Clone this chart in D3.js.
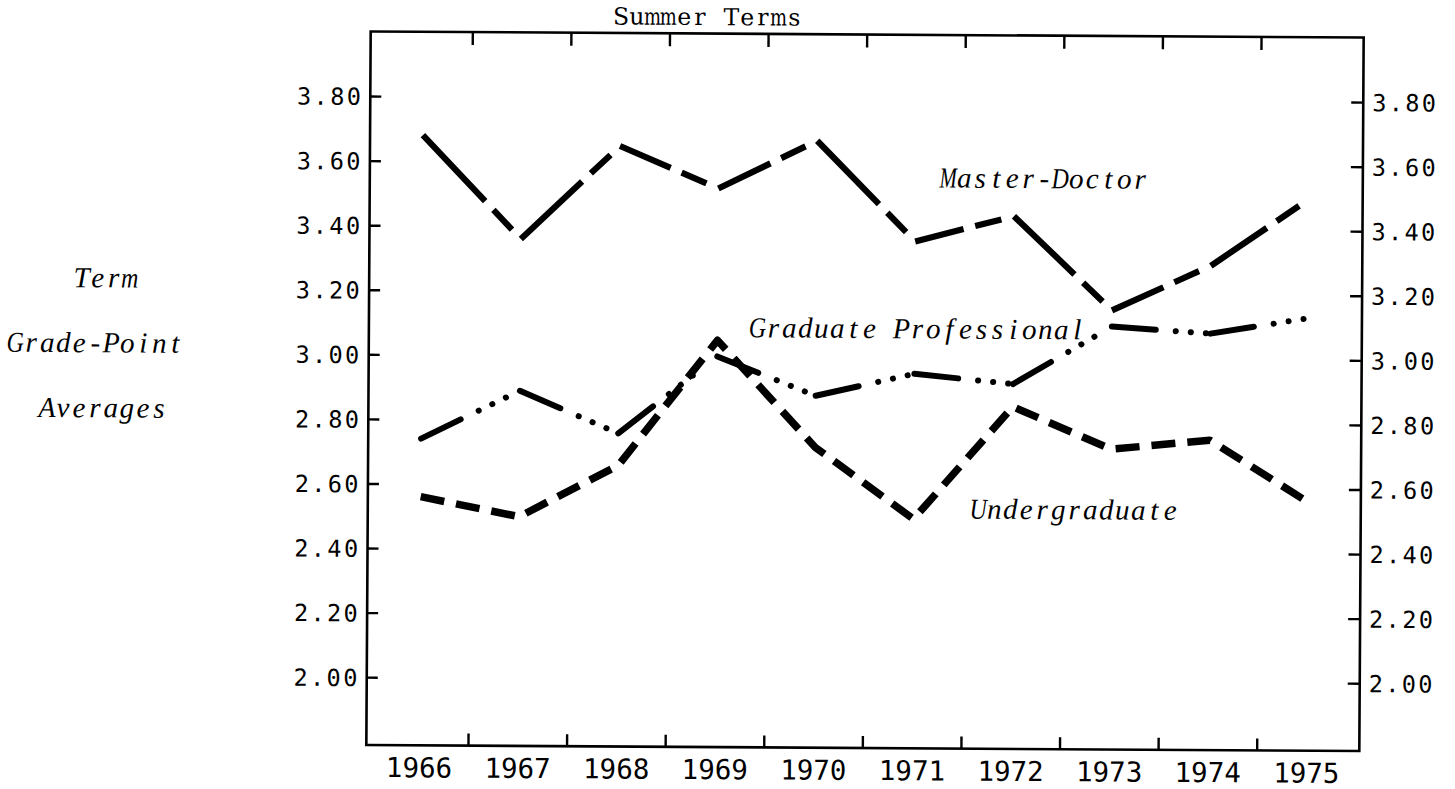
<!DOCTYPE html>
<html>
<head>
<meta charset="utf-8">
<script src="https://cdn.jsdelivr.net/npm/d3@7"></script>
<style>
  html, body { margin: 0; padding: 0; background: #fff; }
  svg { display: block; }
</style>
</head>
<body>
<svg id="chart" width="1455" height="789"></svg>
<script>
// Summer-term grade-point averages by student level, 1966–1975
const years = [1966, 1967, 1968, 1969, 1970, 1971, 1972, 1973, 1974, 1975];
const masterDoctor     = [3.68, 3.36, 3.65, 3.52, 3.67, 3.36, 3.44, 3.15, 3.29, 3.50];
const gradProfessional = [2.74, 2.89, 2.76, 3.00, 2.88, 2.95, 2.92, 3.10, 3.08, 3.13];
const undergraduate    = [2.56, 2.50, 2.66, 3.05, 2.72, 2.50, 2.85, 2.72, 2.75, 2.56];
const yTicks = [2.00, 2.20, 2.40, 2.60, 2.80, 3.00, 3.20, 3.40, 3.60, 3.80];
const seriesLabels = ["Master-Doctor", "Graduate Professional", "Undergraduate"];
const axisTitle = ["Term", "Grade-Point", "Averages"];
const chartTitle = "Summer Terms";

const W = 1455, H = 789;
const frame = { left: 368.5, right: 1361.5, top: 34.5, bottom: 748 };
const ink = "#000";
const pitch = 16;            // typewriter character cell width

const svg = d3.select("#chart");
svg.append("rect").attr("width", W).attr("height", H).attr("fill", "#fff");

// the typed sheet sits very slightly askew
const g = svg.append("g")
  .attr("transform", `rotate(0.35, ${(frame.left + frame.right) / 2}, ${(frame.top + frame.bottom) / 2})`);

const x = d3.scaleBand().domain(years)
  .range([frame.left, frame.right]).paddingInner(0).paddingOuter(0.036);
const cx = d => x(d) + x.bandwidth() / 2;
const y = d3.scaleLinear().domain([1.79, 4.0]).range([frame.bottom, frame.top]);

// fixed-pitch text: every character centred in its own cell,
// wide glyphs squeezed so they stay inside the cell
function typed(parent, str, x0, baseline, cell, style) {
  const word = parent.append("g").attr("class", "typed").attr("aria-label", str);
  Array.from(str).forEach((ch, i) => {
    if (ch === " ") return;
    const cg = word.append("g")
      .attr("transform", `translate(${x0 + i * cell + cell / 2},${baseline})`);
    const t = cg.append("text").attr("text-anchor", "middle").attr("fill", ink).text(ch);
    Object.entries(style).forEach(([k, v]) => t.attr(k, v));
    const w = t.node().getComputedTextLength();
    const room = cell * 1.08;
    if (w > room) t.attr("transform", `scale(${(room / w).toFixed(3)},1)`);
  });
  return word;
}
const uprightStyle = { "font-family": "'DejaVu Serif', serif", "font-size": 23.5 };
const italicStyle = {
  "font-family": "'Liberation Serif', 'Times New Roman', serif",
  "font-style": "italic",
  "font-size": 29
};

// frame
g.append("rect")
  .attr("x", frame.left).attr("y", frame.top)
  .attr("width", frame.right - frame.left).attr("height", frame.bottom - frame.top)
  .attr("fill", "none").attr("stroke", ink).attr("stroke-width", 2.6);

// year boundary ticks, top and bottom, pointing inward
const bounds = years.slice(1);
g.selectAll("line.top-tick").data(bounds).join("line")
  .attr("class", "top-tick")
  .attr("x1", d => x(d)).attr("x2", d => x(d))
  .attr("y1", frame.top).attr("y2", frame.top + 13)
  .attr("stroke", ink).attr("stroke-width", 2.4);
g.selectAll("line.bottom-tick").data(bounds).join("line")
  .attr("class", "bottom-tick")
  .attr("x1", d => x(d)).attr("x2", d => x(d))
  .attr("y1", frame.bottom).attr("y2", frame.bottom - 12)
  .attr("stroke", ink).attr("stroke-width", 2.4);

// year labels
g.selectAll("text.year").data(years).join("text")
  .attr("class", "year")
  .attr("x", d => cx(d)).attr("y", frame.bottom + 32)
  .attr("text-anchor", "middle")
  .attr("font-family", "'DejaVu Sans Mono', monospace")
  .attr("font-size", 27.5)
  .attr("fill", ink)
  .text(d => d);

// value axes on both sides
const fmt = d3.format(".2f");
const tickFont = sel => sel.selectAll("text")
  .attr("font-family", "'DejaVu Sans Mono', monospace")
  .attr("font-size", 23.5)
  .attr("letter-spacing", "2.4px")
  .attr("fill", ink);

const leftAxis = g.append("g")
  .attr("transform", `translate(${frame.left},0)`)
  .call(d3.axisLeft(y).tickValues(yTicks).tickFormat(fmt).tickSize(-11).tickPadding(7));
leftAxis.select(".domain").remove();
leftAxis.selectAll(".tick line").attr("stroke", ink).attr("stroke-width", 2.4);
tickFont(leftAxis);
leftAxis.selectAll("text").attr("dy", "0.36em");

const rightAxis = g.append("g")
  .attr("transform", `translate(${frame.right},0)`)
  .call(d3.axisRight(y).tickValues(yTicks).tickFormat(fmt).tickSize(-12).tickPadding(9));
rightAxis.select(".domain").remove();
rightAxis.selectAll(".tick line").attr("stroke", ink).attr("stroke-width", 2.4);
tickFont(rightAxis);
rightAxis.selectAll("text").attr("dy", "0.36em");

// title
typed(g, chartTitle, 611, 26, 15.75, uprightStyle);

// side title, each line ending at the given cell
[
  { t: axisTitle[0], xEnd: 137, y: 292 },
  { t: axisTitle[1], xEnd: 183, y: 357 },
  { t: axisTitle[2], xEnd: 167, y: 422 }
].forEach(d => typed(g, d.t, d.xEnd - d.t.length * pitch, d.y, pitch, italicStyle));

// series lines, drawn segment by segment so every stretch starts with a dash
function segments(vals) {
  const out = [];
  for (let i = 0; i < vals.length - 1; i++) {
    const x1 = cx(years[i]), y1 = y(vals[i]);
    const x2 = cx(years[i + 1]), y2 = y(vals[i + 1]);
    out.push({ x1, y1, x2, y2, len: Math.hypot(x2 - x1, y2 - y1) });
  }
  return out;
}

// Master-Doctor: long dash, gap, short dash
g.selectAll("line.md").data(segments(masterDoctor)).join("line")
  .attr("class", "md")
  .attr("x1", d => d.x1).attr("y1", d => d.y1)
  .attr("x2", d => d.x2).attr("y2", d => d.y2)
  .attr("stroke", ink).attr("stroke-width", 6.2)
  .attr("stroke-dasharray", d => `${Math.max(20, d.len - 52)} 12 27 13`);

// Graduate Professional: dash followed by three dots
g.selectAll("line.gp").data(segments(gradProfessional)).join("line")
  .attr("class", "gp")
  .attr("x1", d => d.x1).attr("y1", d => d.y1)
  .attr("x2", d => d.x2).attr("y2", d => d.y2)
  .attr("stroke", ink).attr("stroke-width", 6)
  .attr("stroke-linecap", "round")
  .attr("stroke-dasharray", "44 20 0.1 15 0.1 15 0.1 60");

// Undergraduate: even short dashes
const line = d3.line().x((d, i) => cx(years[i])).y(d => y(d));
g.append("path")
  .datum(undergraduate)
  .attr("d", line)
  .attr("fill", "none")
  .attr("stroke", ink).attr("stroke-width", 7.5)
  .attr("stroke-linejoin", "round")
  .attr("stroke-dasharray", "24 12");

// series labels
[
  { t: seriesLabels[0], x: 939, y: 187 },
  { t: seriesLabels[1], x: 749, y: 338 },
  { t: seriesLabels[2], x: 971, y: 518 }
].forEach(d => typed(g, d.t, d.x, d.y, pitch, italicStyle));
</script>
</body>
</html>
